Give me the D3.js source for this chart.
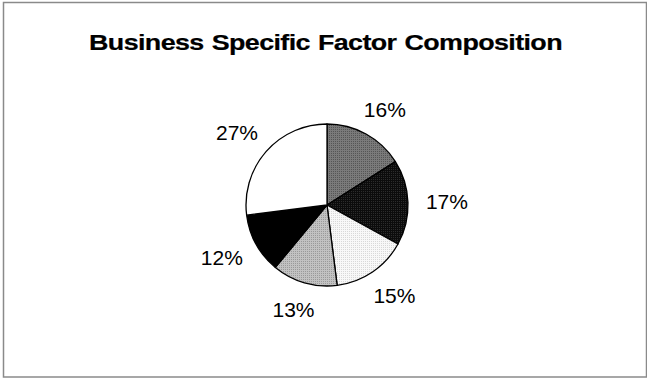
<!DOCTYPE html>
<html>
<head>
<meta charset="utf-8">
<script src="https://cdn.jsdelivr.net/npm/d3@7"></script>
<style>
body { margin: 0; background: #fff; }
text { font-family: "Liberation Sans", Arial, sans-serif; }
</style>
</head>
<body>
<div id="chart"></div>
<script>
var width = 647, height = 379;

// slices clockwise from 12 o'clock
var labels = ["16%", "17%", "15%", "13%", "12%", "27%"];
var values = [16, 17, 15, 13, 12, 27];
var title = "Business Specific Factor Composition";

// fill patterns (base colour, dot colour) per slice
var fills = [
  ["#7a7a7a", "#555555"],
  ["#0c0c0c", "#2c2c2c"],
  ["#f8f8f8", "#d8d8d8"],
  ["#c2c2c2", "#9a9a9a"],
  ["#000000", "#000000"],
  ["#ffffff", "#ffffff"]
];

var cx = 327, cy = 205, r = 81;

var svg = d3.select("#chart").append("svg").attr("width", width).attr("height", height);

svg.append("rect").attr("width", width).attr("height", height).attr("fill", "#fff");
svg.append("rect").attr("x", 3.5).attr("y", 2.5).attr("width", 643).attr("height", 374.5)
  .attr("fill", "none").attr("stroke", "#8a8a8a").attr("stroke-width", 1.5);

var defs = svg.append("defs");
fills.forEach(function(f, i) {
  var p = defs.append("pattern").attr("id", "pat" + i).attr("patternUnits", "userSpaceOnUse")
    .attr("width", 2).attr("height", 2);
  p.append("rect").attr("width", 2).attr("height", 2).attr("fill", f[0]);
  p.append("rect").attr("width", 1).attr("height", 1).attr("fill", f[1]);
});

// title is drawn wide and tight in the original: squeeze spacing, stretch glyphs
var t = svg.append("text").attr("text-anchor", "middle")
  .attr("font-size", 21.5).attr("font-weight", "bold")
  .attr("letter-spacing", "-0.5px").attr("word-spacing", "1px")
  .attr("stroke", "#000").attr("stroke-width", 0.2)
  .text(title);
var tw = t.node().getComputedTextLength();
t.attr("transform", "translate(325.5,50) scale(" + (473 / tw) + ",1)");

var pie = d3.pie().sort(null).value(function(d) { return d; });
var arc = d3.arc().innerRadius(0).outerRadius(r);
var arcs = pie(values);

var g = svg.append("g").attr("transform", "translate(" + cx + "," + cy + ")");
g.selectAll("path").data(arcs).enter().append("path")
  .attr("d", arc)
  .attr("fill", function(d, i) { return "url(#pat" + i + ")"; })
  .attr("stroke", "#000").attr("stroke-width", 1.3).attr("stroke-linejoin", "round");

// labels just outside the pie, box pushed away along the slice direction
var gap = 18, bw = 42, bh = 20;
g.selectAll("text.lbl").data(arcs).enter().append("text")
  .attr("class", "lbl")
  .attr("font-size", 21)
  .attr("text-anchor", "middle")
  .attr("x", function(d) {
    var a = (d.startAngle + d.endAngle) / 2;
    return Math.sin(a) * (r + gap) + Math.sin(a) * bw / 2;
  })
  .attr("y", function(d) {
    var a = (d.startAngle + d.endAngle) / 2;
    return -Math.cos(a) * (r + gap) - Math.cos(a) * bh / 2 + 7.5;
  })
  .text(function(d, i) { return labels[i]; });
</script>
</body>
</html>
